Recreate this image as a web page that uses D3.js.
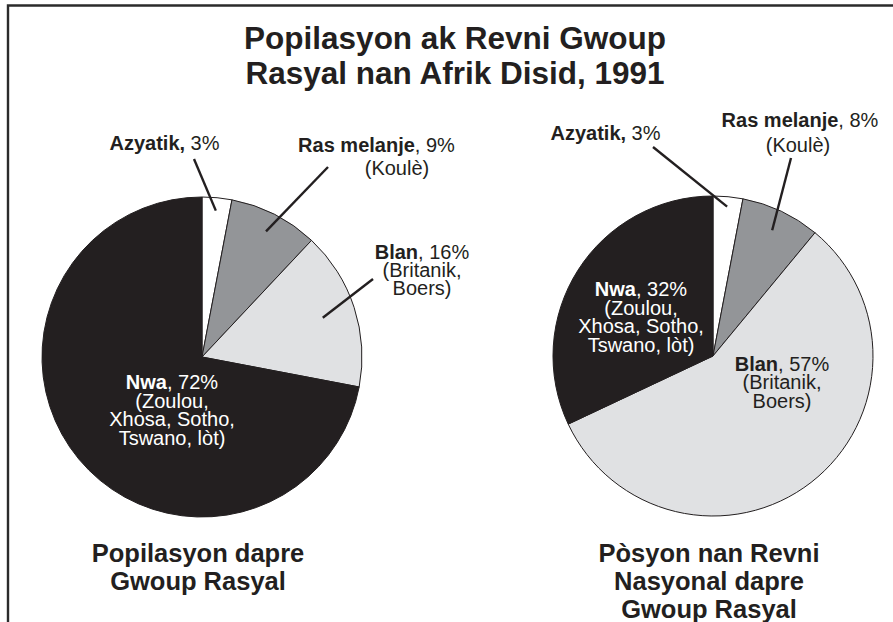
<!DOCTYPE html>
<html>
<head>
	<title>Popilasyon ak Revni</title>
	<meta charset='utf-8'>
	<style>
		body {
			margin: 0;
			background-color: #fff;
		}

		svg text {
			font-family: 'Liberation Sans', Arial, Helvetica, sans-serif;
			fill: #231f20;
		}

		.title {
			font-size: 31.5px;
			font-weight: bold;
		}

		.caption {
			font-size: 25.5px;
			font-weight: bold;
		}

		.label {
			font-size: 20px;
		}

		.label .bold {
			font-weight: bold;
		}

		.slice {
			stroke: #231f20;
			stroke-width: 1px;
		}

		.leader {
			stroke: #231f20;
			stroke-width: 2.4px;
		}

		.frame {
			fill: none;
			stroke: #2b2b2b;
			stroke-width: 2.4px;
		}
	</style>
</head>
<body>

<script src='https://cdnjs.cloudflare.com/ajax/libs/d3/7.8.5/d3.min.js'></script>
<script>
	'use strict';

	// Données
	const groups = ['Azyatik', 'Ras melanje', 'Blan', 'Nwa'];
	const populationShare = [3, 9, 16, 72];
	const incomeShare = [3, 8, 57, 32];
	const subLines = [
		[],
		['(Koulè)'],
		['(Britanik,', 'Boers)'],
		['(Zoulou,', 'Xhosa, Sotho,', 'Tswano, lòt)']
	];
	const titleLines = ['Popilasyon ak Revni Gwoup', 'Rasyal nan Afrik Disid, 1991'];
	const populationCaption = ['Popilasyon dapre', 'Gwoup Rasyal'];
	const incomeCaption = ['Pòsyon nan Revni', 'Nasyonal dapre', 'Gwoup Rasyal'];

	const colors = d3.scaleOrdinal()
		.domain(groups)
		.range(['#ffffff', '#939598', '#e0e1e3', '#231f20']);
	const textColors = {'Nwa': '#ffffff'};

	const width = 893;
	const height = 622;
	const radius = 160;

	// Placement des étiquettes (décalages par rapport au centre)
	// x: centre de chaque ligne, y: ligne de base de la 1re ligne, lh: interligne
	// leader: rayon intérieur + point extérieur
	const populationLayout = {
		'Azyatik': {x: [-37.5], y: -207, lh: 18, leader: {r: 147, dx: -8, dy: -198}},
		'Ras melanje': {x: [174.5, 195], y: -205.5, lh: 23.5, leader: {r: 141, dx: 126, dy: -190}},
		'Blan': {x: [220, 220, 220], y: -98, lh: 18, leader: {r: 127, dx: 171, dy: -78}},
		'Nwa': {x: [-30, -30, -30, -30], y: 32, lh: 18.6}
	};
	const incomeLayout = {
		'Azyatik': {x: [-107.5], y: -216, lh: 18, leader: {r: 150, dx: -60, dy: -209}},
		'Ras melanje': {x: [87, 85], y: -229, lh: 25, leader: {r: 139, dx: 78, dy: -198}},
		'Blan': {x: [69, 69, 69], y: 14.7, lh: 18.7},
		'Nwa': {x: [-72, -72, -72, -72], y: -60, lh: 18.7}
	};

	const svg = d3.select('body').append('svg')
		.attr('width', width)
		.attr('height', height);

	// Cadre (haut et gauche seulement, le reste est coupé)
	svg.append('path')
		.attr('class', 'frame')
		.attr('d', 'M8,' + height + 'V5.5H' + width);

	svg.append('text')
		.attr('class', 'title')
		.attr('text-anchor', 'middle')
		.selectAll('tspan')
		.data(titleLines)
		.join('tspan')
		.attr('x', 455)
		.attr('y', function(d, i) {return 49 + i * 34.5;})
		.text(function(d) {return d;});

	const pie = d3.pie().sort(null).value(function(d) {return d.value;});
	const arc = d3.arc().innerRadius(0).outerRadius(radius);

	function drawPie(values, cx, cy, layout, caption) {
		const data = groups.map(function(g, i) {
			return {name: g, value: values[i], sub: subLines[i]};
		});
		const arcs = pie(data);

		const g = svg.append('g')
			.attr('transform', 'translate(' + cx + ',' + cy + ')');

		g.selectAll('.slice')
			.data(arcs)
			.join('path')
			.attr('class', 'slice')
			.attr('fill', function(d) {return colors(d.data.name);})
			.attr('d', arc);

		// Traits de rappel
		const withLeader = arcs.filter(function(d) {return layout[d.data.name].leader;});
		g.selectAll('.leader')
			.data(withLeader)
			.join('line')
			.attr('class', 'leader')
			.attr('x1', function(d) {
				const a = (d.startAngle + d.endAngle) / 2;
				return Math.sin(a) * layout[d.data.name].leader.r;
			})
			.attr('y1', function(d) {
				const a = (d.startAngle + d.endAngle) / 2;
				return -Math.cos(a) * layout[d.data.name].leader.r;
			})
			.attr('x2', function(d) {return layout[d.data.name].leader.dx;})
			.attr('y2', function(d) {return layout[d.data.name].leader.dy;});

		// Étiquettes
		arcs.forEach(function(d) {
			const l = layout[d.data.name];
			const fill = textColors[d.data.name] || '#231f20';
			const t = g.append('text')
				.attr('class', 'label')
				.attr('text-anchor', 'middle')
				.style('fill', fill);

			const first = t.append('tspan')
				.attr('x', l.x[0])
				.attr('y', l.y);
			first.append('tspan')
				.attr('class', 'bold')
				.style('fill', fill)
				.text(d.data.name === 'Azyatik' ? d.data.name + ',' : d.data.name);
			first.append('tspan')
				.style('fill', fill)
				.text((d.data.name === 'Azyatik' ? ' ' : ', ') + d.data.value + '%');

			d.data.sub.forEach(function(s, i) {
				t.append('tspan')
					.style('fill', fill)
					.attr('x', l.x[i + 1])
					.attr('y', l.y + (i + 1) * l.lh)
					.text(s);
			});
		});

		svg.append('text')
			.attr('class', 'caption')
			.attr('text-anchor', 'middle')
			.selectAll('tspan')
			.data(caption)
			.join('tspan')
			.attr('x', cx - 4)
			.attr('y', function(d, i) {return 562 + i * 28;})
			.text(function(d) {return d;});
	}

	drawPie(populationShare, 202, 357, populationLayout, populationCaption);
	drawPie(incomeShare, 713, 356, incomeLayout, incomeCaption);

</script>
</body>
</html>
